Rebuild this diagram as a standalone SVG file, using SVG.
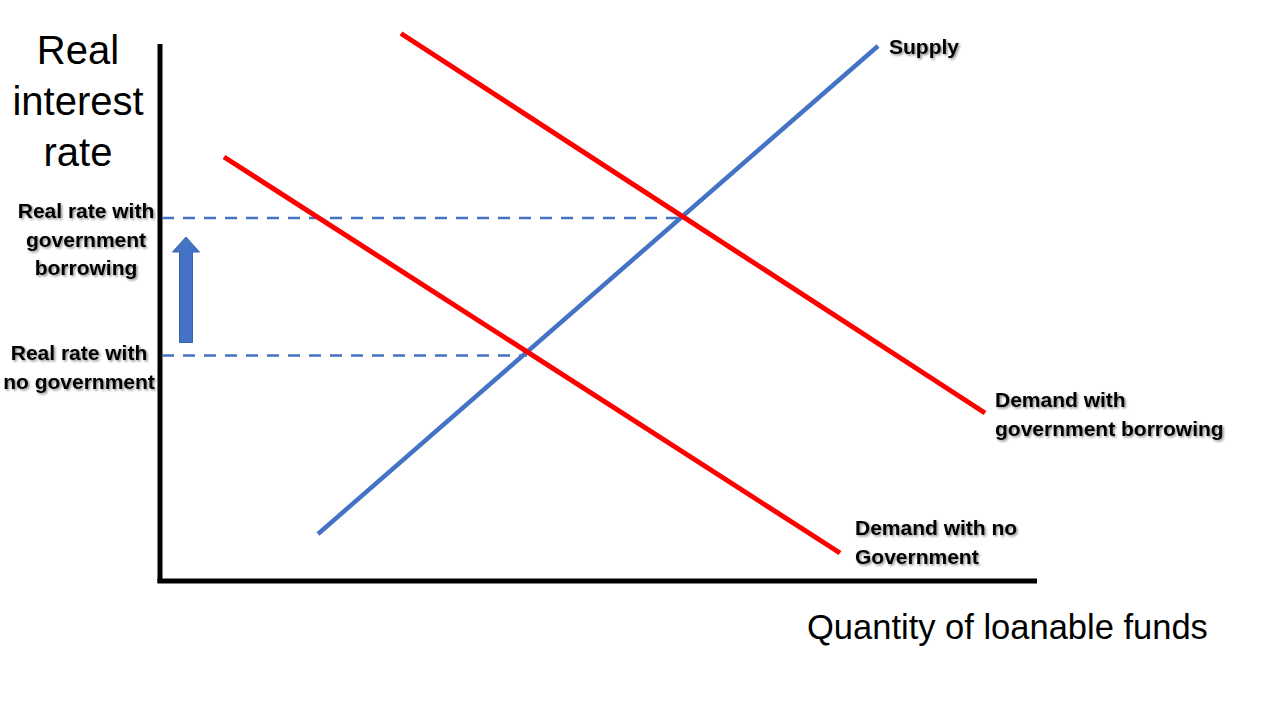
<svg xmlns="http://www.w3.org/2000/svg" width="1280" height="720" viewBox="0 0 1280 720">
<defs>
<filter id="shadow" x="-10%" y="-30%" width="120%" height="160%">
<feDropShadow dx="1.5" dy="1.5" stdDeviation="1" flood-color="#000" flood-opacity="0.45"/>
</filter>
</defs>
<style>
.axis{stroke:#000;stroke-width:5;fill:none}
.supply{stroke:#4472C4;stroke-width:4.5;fill:none}
.demand{stroke:#FF0000;stroke-width:5;fill:none}
.dash{stroke:#4472C4;stroke-width:2.5;stroke-dasharray:12 9;fill:none}
.big{font-family:"Liberation Sans",Arial,sans-serif;font-size:40px;fill:#000}
.axlab{font-family:"Liberation Sans",Arial,sans-serif;font-size:34.5px;fill:#000}
.lab{font-family:"Liberation Sans",Arial,sans-serif;font-size:21px;font-weight:bold;fill:#000;filter:url(#shadow)}
</style>
<rect width="1280" height="720" fill="#fff"/>
<g id="axes">
<line class="axis" x1="160" y1="44" x2="160" y2="583"/>
<line class="axis" x1="157.5" y1="581" x2="1037" y2="581"/>
</g>
<g id="connectors">
<line class="dash" x1="162" y1="218" x2="680" y2="218"/>
<line class="dash" x1="162" y1="355.5" x2="527" y2="355.5"/>
</g>
<g id="supply">
<line class="supply" x1="318" y1="534" x2="878" y2="46"/>
<text class="lab" x="889" y="54">Supply</text>
</g>
<g id="demand-no-gov">
<line class="demand" x1="224" y1="157" x2="840" y2="553"/>
<text class="lab" x="855" y="535">Demand with no</text>
<text class="lab" x="855" y="564">Government</text>
</g>
<g id="demand-gov">
<line class="demand" x1="401" y1="33.5" x2="985" y2="413"/>
<text class="lab" x="995" y="407">Demand with</text>
<text class="lab" x="995" y="436">government borrowing</text>
</g>
<g id="y-axis-label">
<text class="big" x="78" y="64" text-anchor="middle">Real</text>
<text class="big" x="78" y="115" text-anchor="middle">interest</text>
<text class="big" x="78" y="166" text-anchor="middle">rate</text>
</g>
<g id="x-axis-label">
<text class="axlab" x="807" y="639">Quantity of loanable funds</text>
</g>
<g id="rate-gov">
<text class="lab" x="86" y="218" text-anchor="middle">Real rate with</text>
<text class="lab" x="86" y="247" text-anchor="middle">government</text>
<text class="lab" x="86" y="275" text-anchor="middle">borrowing</text>
</g>
<g id="rate-no-gov">
<text class="lab" x="79" y="360" text-anchor="middle">Real rate with</text>
<text class="lab" x="79" y="389" text-anchor="middle">no government</text>
</g>
<g id="up-arrow">
<polygon points="179.5,342.5 192.5,342.5 192.5,252 199.5,252 186,237 172.5,252 179.5,252" fill="#4472C4" stroke="#3A64AE" stroke-width="1"/>
</g>
</svg>
